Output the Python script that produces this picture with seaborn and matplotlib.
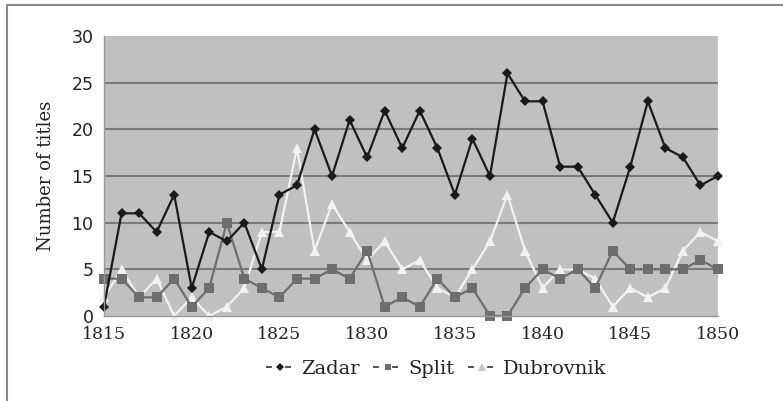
import numpy as np
import pandas as pd
import matplotlib
matplotlib.use("Agg")
import matplotlib.pyplot as plt
import seaborn as sns
from matplotlib.lines import Line2D

# Data
years = list(range(1815, 1851))
zadar = [1, 11, 11, 9, 13, 3, 9, 8, 10, 5, 13, 14, 20, 15, 21, 17, 22, 18, 22, 18,
         13, 19, 15, 26, 23, 23, 16, 16, 13, 10, 16, 23, 18, 17, 14, 15]
split = [4, 4, 2, 2, 4, 1, 3, 10, 4, 3, 2, 4, 4, 5, 4, 7, 1, 2, 1, 4,
         2, 3, 0, 0, 3, 5, 4, 5, 3, 7, 5, 5, 5, 5, 6, 5]
dubrovnik = [2, 5, 2, 4, 0, 2, 0, 1, 3, 9, 9, 18, 7, 12, 9, 6, 8, 5, 6, 3,
             2, 5, 8, 13, 7, 3, 5, 5, 4, 1, 3, 2, 3, 7, 9, 8]

df = pd.DataFrame({"Year": years, "Zadar": zadar, "Split": split, "Dubrovnik": dubrovnik})
long_df = df.melt(id_vars="Year", var_name="City", value_name="Titles")

sns.set_style("white")
plt.rcParams["font.family"] = ["DejaVu Serif"]

fig = plt.figure(figsize=(7.83, 4.01), dpi=100)
ax = fig.add_axes([104 / 783, 1 - 316 / 401, 614 / 783, 280 / 401])

palette = {"Zadar": "#1a1a1a", "Split": "#6e6e6e", "Dubrovnik": "#f2f2f2"}
markers = {"Zadar": "D", "Split": "s", "Dubrovnik": "^"}
sizes = {"Zadar": 5, "Split": 7, "Dubrovnik": 7}

for city in ["Dubrovnik", "Split", "Zadar"]:
    sub = long_df[long_df["City"] == city]
    sns.lineplot(data=sub, x="Year", y="Titles", ax=ax, color=palette[city],
                 marker=markers[city], markersize=sizes[city], linewidth=1.6,
                 markeredgewidth=0, legend=False, clip_on=False)

ax.set_facecolor("#c0c0c0")
ax.set_xlim(1815, 1850)
ax.set_ylim(0, 30)
ax.set_xticks(range(1815, 1851, 5))
ax.set_yticks(range(0, 31, 5))
for y in range(5, 30, 5):
    ax.axhline(y, color="#7a7a7a", linewidth=1.5, zorder=0.5)

for side in ["top", "right"]:
    ax.spines[side].set_visible(False)
for side in ["left", "bottom"]:
    ax.spines[side].set_color("#999999")
    ax.spines[side].set_linewidth(1)
ax.tick_params(axis="both", direction="out", length=4, color="#999999",
               labelsize=12.5, labelcolor="#222222")
for lbl in ax.get_yticklabels():
    lbl.set_family("DejaVu Sans")
    lbl.set_fontsize(12.5)
ax.set_xlabel("")
ax.set_ylabel("Number of titles", fontsize=13, color="#222222", labelpad=12)

# legend handles: dark dashes either side of a coloured marker
dash = (0, (3.5, 8))
handles = [
    Line2D([], [], color="#333333", marker="D", markersize=4, linewidth=1.2,
           linestyle=dash, markerfacecolor="#1a1a1a", markeredgewidth=0),
    Line2D([], [], color="#333333", marker="s", markersize=5, linewidth=1.2,
           linestyle=dash, markerfacecolor="#6e6e6e", markeredgewidth=0),
    Line2D([], [], color="#333333", marker="^", markersize=6, linewidth=1.2,
           linestyle=dash, markerfacecolor="#c8c8c8", markeredgewidth=0),
]
fig.legend(handles, ["Zadar", "Split", "Dubrovnik"], loc="center",
           bbox_to_anchor=(436 / 783, 1 - 369 / 401), ncol=3, frameon=False,
           fontsize=14, handlelength=1.5, handletextpad=0.3, columnspacing=0.7,
           labelcolor="#222222")

# partial frame around the figure (left and top edges)
fig.add_artist(Line2D([7 / 783, 7 / 783], [0, 1 - 5 / 401], transform=fig.transFigure,
                      color="#8a8a8a", linewidth=1.5))
fig.add_artist(Line2D([7 / 783, 1], [1 - 5 / 401, 1 - 5 / 401], transform=fig.transFigure,
                      color="#8a8a8a", linewidth=1.5))

fig.savefig("out.png", dpi=100)
